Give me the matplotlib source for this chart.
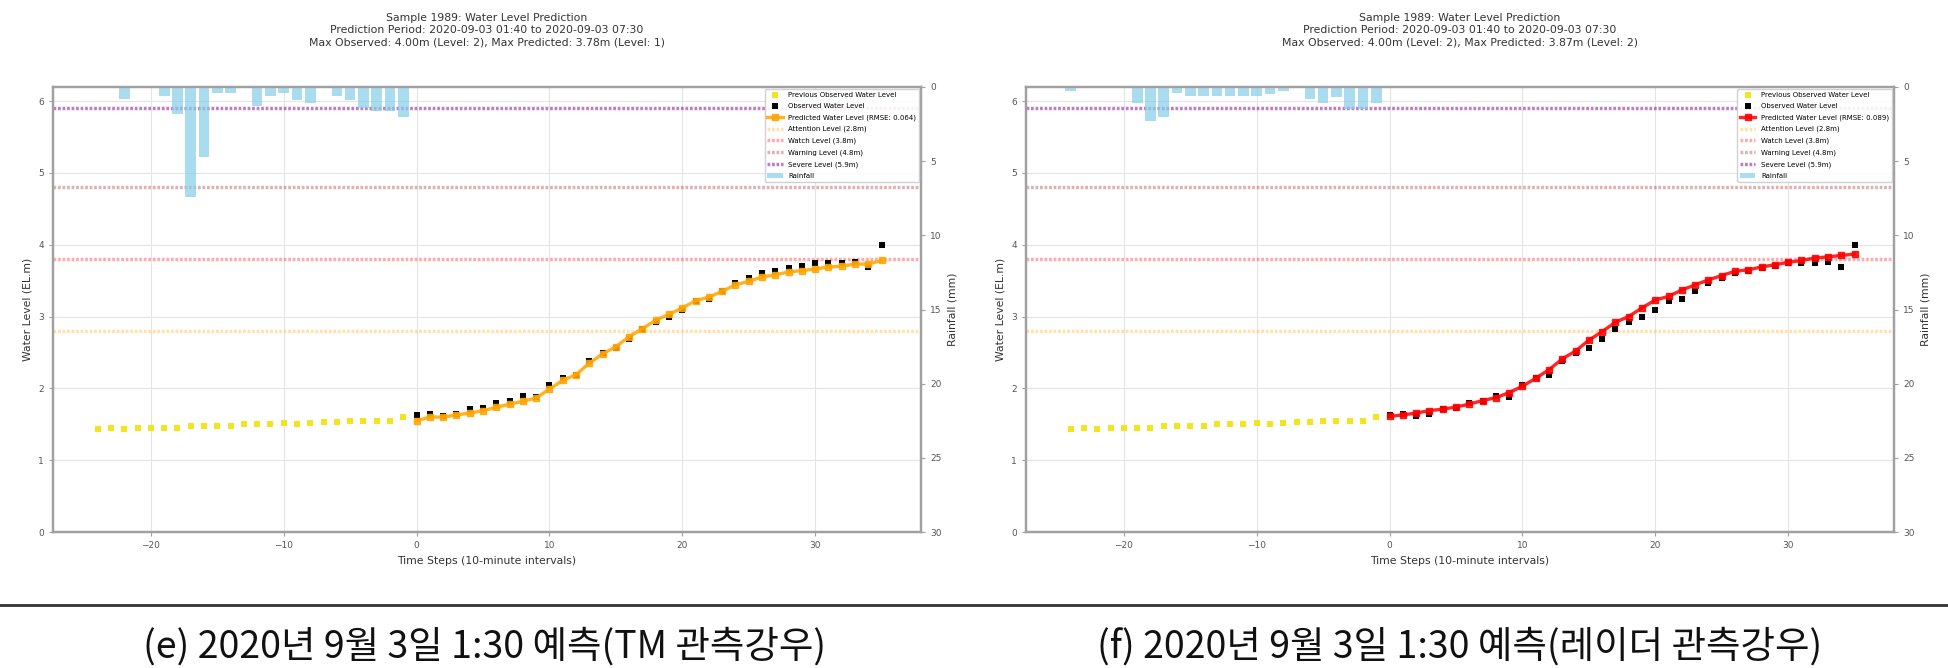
import matplotlib
matplotlib.use("Agg")
from matplotlib import pyplot as plt
from matplotlib.lines import Line2D

# time axis (10-minute steps)
past_steps = list(range(-24, 0))
pred_steps = list(range(0, 36))

prev_observed = [1.43, 1.45, 1.43, 1.45, 1.45, 1.45, 1.45, 1.47, 1.48, 1.48, 1.48, 1.50,
                 1.50, 1.50, 1.52, 1.51, 1.52, 1.53, 1.53, 1.54, 1.55, 1.55, 1.55, 1.60]

observed = [1.63, 1.64, 1.62, 1.64, 1.71, 1.73, 1.79, 1.82, 1.89, 1.88, 2.04, 2.14,
            2.19, 2.38, 2.49, 2.56, 2.69, 2.82, 2.92, 3.00, 3.09, 3.22, 3.25, 3.35,
            3.47, 3.54, 3.60, 3.64, 3.68, 3.71, 3.74, 3.75, 3.75, 3.76, 3.69, 4.00]

predicted_tm = [1.55, 1.60, 1.60, 1.63, 1.655, 1.69, 1.735, 1.78, 1.82, 1.865, 1.99, 2.11,
                2.19, 2.35, 2.48, 2.58, 2.72, 2.83, 2.95, 3.03, 3.12, 3.22, 3.27, 3.35,
                3.44, 3.49, 3.55, 3.58, 3.62, 3.64, 3.66, 3.69, 3.70, 3.73, 3.73, 3.78]

predicted_radar = [1.61, 1.63, 1.655, 1.69, 1.71, 1.74, 1.78, 1.83, 1.87, 1.94, 2.03, 2.14,
                   2.26, 2.41, 2.52, 2.67, 2.79, 2.92, 3.00, 3.12, 3.23, 3.28, 3.37, 3.44,
                   3.51, 3.57, 3.63, 3.65, 3.69, 3.72, 3.755, 3.78, 3.815, 3.83, 3.85, 3.87]

rain_tm_steps = [-22, -19, -18, -17, -16, -15, -14, -12, -11, -10, -9, -8, -6, -5, -4, -3, -2, -1]
rain_tm = [0.8, 0.6, 1.8, 7.4, 4.7, 0.4, 0.4, 1.3, 0.6, 0.4, 0.9, 1.1, 0.6, 0.9, 1.4, 1.6, 1.6, 2.0]

rain_radar_steps = [-24, -19, -18, -17, -16, -15, -14, -13, -12, -11, -10, -9, -8, -6, -5, -4, -3, -2, -1]
rain_radar = [0.25, 1.1, 2.3, 2.05, 0.4, 0.6, 0.6, 0.6, 0.6, 0.6, 0.6, 0.45, 0.25, 0.8, 1.1, 0.65, 1.5, 1.5, 1.1]

level_values = [2.8, 3.8, 4.8, 5.9]
level_names = ["Attention Level (2.8m)", "Watch Level (3.8m)", "Warning Level (4.8m)", "Severe Level (5.9m)"]
level_colors = ["orange", "red", "darkred", "purple"]
level_alphas = [0.33, 0.33, 0.3, 0.5]

titles = [
    "Sample 1989: Water Level Prediction\nPrediction Period: 2020-09-03 01:40 to 2020-09-03 07:30\n"
    "Max Observed: 4.00m (Level: 2), Max Predicted: 3.78m (Level: 1)",
    "Sample 1989: Water Level Prediction\nPrediction Period: 2020-09-03 01:40 to 2020-09-03 07:30\n"
    "Max Observed: 4.00m (Level: 2), Max Predicted: 3.87m (Level: 2)",
]
captions = ["(e) 2020년 9월 3일 1:30 예측(TM 관측강우)", "(f) 2020년 9월 3일 1:30 예측(레이더 관측강우)"]

SPINE = "#a0a0a0"
TXT = "#555555"


def drawPanel(ax, pred, predColor, rmse, rainSteps, rain, title):
    ax.grid(True, color="#e4e4e4", linewidth=0.8)
    ax.set_axisbelow(True)
    ax.scatter(past_steps, prev_observed, marker="s", s=24, color="#f2e51c", linewidths=0,
               label="Previous Observed Water Level", zorder=3)
    ax.scatter(pred_steps, observed, marker="s", s=18, color="black", linewidths=0,
               label="Observed Water Level", zorder=3)
    ax.plot(pred_steps, pred, color=predColor, lw=2.4, marker="s", ms=4.2, alpha=0.85,
            label=f"Predicted Water Level (RMSE: {rmse})", zorder=4)
    for v, name, c, a in zip(level_values, level_names, level_colors, level_alphas):
        ax.axhline(v, color=c, alpha=a, lw=2.5, ls=(0, (0.8, 0.5)), label=name, zorder=2)

    ax.set_xlim(-27.37, 37.97)
    ax.set_ylim(0, 5.9 * 1.05)
    ax.set_xticks([-20, -10, 0, 10, 20, 30])
    ax.set_yticks([0, 1, 2, 3, 4, 5, 6])
    ax.set_xlabel("Time Steps (10-minute intervals)", fontsize=7.8, color="#333333", labelpad=4)
    ax.set_ylabel("Water Level (EL.m)", fontsize=7.8, color="#333333")
    ax.set_title(title, fontsize=7.8, color="#333333", pad=30, linespacing=1.25)

    ax2 = ax.twinx()
    ax2.bar(rainSteps, rain, width=0.8, color="skyblue", alpha=0.7, label="Rainfall")
    ax2.set_ylim(30, 0)
    ax2.set_yticks([0, 5, 10, 15, 20, 25, 30])
    ax2.set_ylabel("Rainfall (mm)", fontsize=7.8, color="#333333")

    for a in (ax, ax2):
        for sp in a.spines.values():
            sp.set_color(SPINE)
            sp.set_linewidth(1.6)
        a.tick_params(labelsize=6.5, labelcolor=TXT, color=SPINE, length=3, width=0.8)

    h1, l1 = ax.get_legend_handles_labels()
    h2, l2 = ax2.get_legend_handles_labels()
    leg = ax2.legend(h1 + h2, l1 + l2, loc="upper right", fontsize=5, borderaxespad=0.3,
                     handlelength=2.2, labelspacing=0.75, framealpha=0.9, edgecolor="#cccccc")
    leg.set_zorder(10)


fig = plt.figure(figsize=(19.48, 6.68), dpi=100)
axLeft = fig.add_axes([53 / 1948, 136 / 668, 868 / 1948, 445 / 668])
axRight = fig.add_axes([1026 / 1948, 136 / 668, 868 / 1948, 445 / 668])

drawPanel(axLeft, predicted_tm, "orange", "0.064", rain_tm_steps, rain_tm, titles[0])
drawPanel(axRight, predicted_radar, "red", "0.089", rain_radar_steps, rain_radar, titles[1])

# separator line and Korean captions
fig.add_artist(Line2D([0, 1], [1 - 605 / 668, 1 - 605 / 668], transform=fig.transFigure,
                      color="#333333", lw=2))
fig.text(485 / 1948, 1 - 647 / 668, captions[0], ha="center", va="center", fontsize=27,
         weight="medium", family=["Noto Sans CJK KR", "DejaVu Sans"], color="#111111")
fig.text(1460 / 1948, 1 - 647 / 668, captions[1], ha="center", va="center", fontsize=27,
         weight="medium", family=["Noto Sans CJK KR", "DejaVu Sans"], color="#111111")

fig.savefig("out.png", dpi=100)
